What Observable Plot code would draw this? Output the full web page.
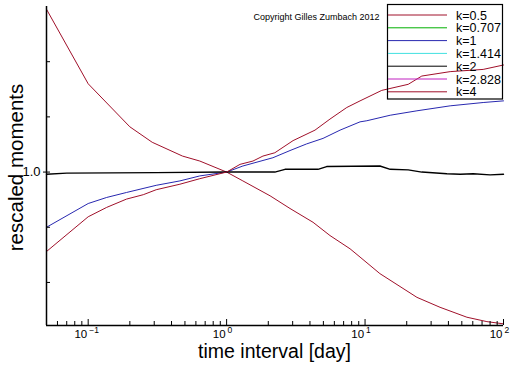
<!DOCTYPE html>
<html><head><meta charset="utf-8">
<script src="https://cdn.jsdelivr.net/npm/d3@7"></script>
<script src="https://cdn.jsdelivr.net/npm/@observablehq/plot@0.6"></script>
<style>
html,body{margin:0;padding:0;background:#fff;}
#chart svg{display:block;}
</style>
</head><body><div id="chart"></div>
<script>
// Data
const seriesNames = ["k=0.5","k=0.707","k=1","k=1.414","k=2","k=2.828","k=4"];
const seriesColors = ["#a0102a","#00b000","#2828b0","#40e0e0","#000000","#c020c0","#a0102a"];

const tK05 = [0.05,0.1,0.2,0.29,0.48,0.64,1,1.31,2.06,2.87,4.21,5.58,7.79,9.2,12.8,23.7,34.8,54.4,75.9,100];
const mK05 = [1.295,1.160,1.082,1.054,1.029,1.020,1.0,0.984,0.957,0.934,0.909,0.885,0.861,0.846,0.816,0.773,0.755,0.737,0.729,0.725];

const tK1 = [0.05,0.1,0.136,0.189,0.31,0.46,0.64,1,1.31,2.16,2.87,3.78,4.97,6.6,9.2,10.3,15.2,23.7,41.2,71.3,100];
const mK1 = [0.900,0.943,0.954,0.963,0.976,0.984,0.993,1.0,1.011,1.026,1.039,1.051,1.061,1.076,1.091,1.093,1.103,1.111,1.120,1.126,1.129];

const tK2 = [0.05,0.07,0.31,1,2.23,2.64,4.57,5.28,12.8,15.2,20.5,25.7,39,48.7,60.4,80,100];
const mK2 = [0.996,0.998,0.999,1.0,1.0,1.005,1.005,1.010,1.011,1.005,1.004,1.0,0.997,0.996,0.997,0.995,0.996];

const tK4 = [0.05,0.1,0.136,0.189,0.25,0.31,0.46,0.64,1,1.25,1.55,1.83,2.23,3.02,4.35,5.58,7.38,9.2,13.2,20.5,25.7,41.2,71.3,100];
const mK4 = [0.856,0.919,0.936,0.951,0.959,0.968,0.978,0.988,1.0,1.014,1.020,1.029,1.035,1.057,1.076,1.096,1.117,1.129,1.148,1.159,1.174,1.182,1.186,1.194];

const xMajorTicks = [0.1,1,10,100];
const xMajorExp = ["-1","0","1","2"];
const xMinorTicks = [0.06,0.07,0.08,0.09,0.2,0.3,0.4,0.5,0.6,0.7,0.8,0.9,2,3,4,5,6,7,8,9,20,30,40,50,60,70,80,90];
const yTicks = [0.8,0.9,1.1,1.2];
const yLabelTicks = [1.0];
const xDomain = [0.05,100];
const yDomain = [0.722,1.3];
const xTitle = "time interval [day]";
const yTitle = "rescaled moments";
const copyright = "Copyright Gilles Zumbach 2012";

const toRows = (t,m,name) => t.map((x,i)=>({t:x,m:m[i],k:name}));
const lines = [
  {rows: toRows(tK05,mK05,"k=0.5"), color: seriesColors[0], w: 1},
  {rows: toRows(tK1,mK1,"k=1"), color: seriesColors[2], w: 1},
  {rows: toRows(tK2,mK2,"k=2"), color: seriesColors[4], w: 1.4},
  {rows: toRows(tK4,mK4,"k=4"), color: seriesColors[6], w: 1}
];

const W = 512, H = 366;
const mL = 46, mR = 9, mT = 6, mB = 41;
const plotW = W - mL - mR, plotH = H - mT - mB;
const font = "Liberation Sans, Arial, Helvetica, sans-serif";

const chart = Plot.plot({
  width: W, height: H,
  marginLeft: mL, marginRight: mR, marginTop: mT, marginBottom: mB,
  style: {fontFamily: font, background: "#fff", overflow: "visible"},
  x: {type: "log", domain: xDomain, axis: null},
  y: {type: "linear", domain: yDomain, axis: null},
  marks: [
    ...lines.map(l => Plot.line(l.rows, {x: "t", y: "m", stroke: l.color, strokeWidth: l.w})),
    Plot.ruleX([xDomain[0]], {stroke: "#000", strokeWidth: 1.5}),
    Plot.ruleY([yDomain[0]], {stroke: "#000", strokeWidth: 1.5}),
    Plot.tickX(xMajorTicks, {x: d => d, insetTop: plotH - 6, stroke: "#000", strokeWidth: 1}),
    Plot.tickX(xMinorTicks, {x: d => d, insetTop: plotH - 4, stroke: "#000", strokeWidth: 1}),
    Plot.tickY(yTicks, {y: d => d, insetRight: plotW - 4, stroke: "#000", strokeWidth: 1}),
    Plot.tickY(yLabelTicks, {y: d => d, insetRight: plotW - 7, dx: -3, stroke: "#000", strokeWidth: 1}),
    Plot.text(yLabelTicks, {y: d => d, frameAnchor: "left", dx: -6, textAnchor: "end", text: d => d.toFixed(1), fontSize: 13, fill: "#000"}),
    Plot.text(xMajorTicks, {x: d => d, frameAnchor: "bottom", dy: 12, dx: -1, textAnchor: "end", text: d => "10", fontSize: 11.5, fill: "#000"}),
    Plot.text(xMajorTicks.map((d,i)=>({x:d,e:xMajorExp[i]})), {x: "x", frameAnchor: "bottom", dy: 7, dx: 1, textAnchor: "start", text: d => d.e === "-1" ? "\u2212" + "1" : d.e, fontSize: 8.5, fill: "#000"})
  ]
});

document.getElementById("chart").appendChild(chart);

// Titles, legend and copyright overlay
const svg = d3.select(chart);
svg.append("text").attr("x", 274.5).attr("y", 358).attr("text-anchor", "middle")
  .attr("font-family", font).attr("font-size", 19.5).attr("fill", "#000").text(xTitle);
svg.append("text").attr("transform", "translate(23,167.5) rotate(-90)").attr("text-anchor", "middle")
  .attr("font-family", font).attr("font-size", 20.5).attr("fill", "#000").text(yTitle);
svg.append("text").attr("x", 316.5).attr("y", 19.5).attr("text-anchor", "middle")
  .attr("font-family", font).attr("font-size", 9).attr("fill", "#000").text(copyright);
const lg = svg.append("g");
lg.append("rect").attr("x", 387.5).attr("y", 4.5).attr("width", 115).attr("height", 94.5)
  .attr("fill", "none").attr("stroke", "#000").attr("stroke-width", 1.2);
seriesNames.forEach((n, i) => {
  const y = 15 + i * 12.8;
  lg.append("line").attr("x1", 388).attr("x2", 447).attr("y1", y).attr("y2", y)
    .attr("stroke", seriesColors[i]).attr("stroke-width", 1);
  lg.append("text").attr("x", 456).attr("y", y + 4.5).attr("text-anchor", "start").attr("font-family", font)
    .attr("font-size", 12.5).attr("fill", "#000").text(n);
});
</script>
</body></html>
